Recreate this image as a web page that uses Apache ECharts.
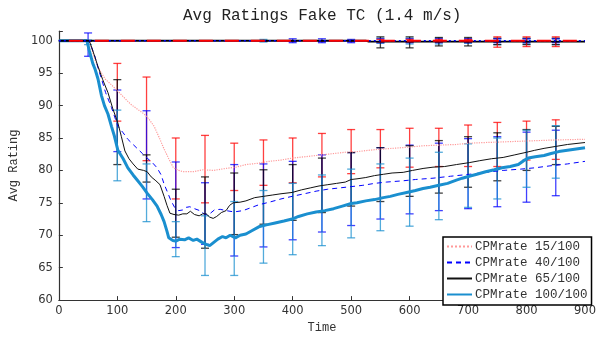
<!DOCTYPE html>
<html>
<head>
<meta charset="utf-8">
<script src="https://cdn.jsdelivr.net/npm/echarts@6/dist/echarts.min.js"></script>
<style>
  html, body { margin: 0; padding: 0; background: #fff; }
  #main { width: 609px; height: 339px; }
</style>
</head>
<body>
<div id="main"></div>
<script>
// ---- data ----
var legendNames = ['CPMrate 15/100', 'CPMrate 40/100', 'CPMrate 65/100', 'CPMrate 100/100'];

var cpm15Line = [[0,100],[52,100],[56,98.8],[62,97],[70,95.5],[79,94.1],[90,93.2],[101,92.2],[112,91.2],[123,90.2],
  [135,89.4],[146,88.7],[155,87.8],[163,86.8],[172,85.0],[180,83.3],[188,81.8],[196,80.4],[205,80.0],[213,79.8],
  [230,79.8],[247,80.1],[265,80.0],[285,80.3],[303,80.5],[320,80.9],[340,81.1],[360,81.4],[380,81.6],[399,81.9],
  [430,82.2],[460,82.5],[490,82.8],[510,82.9],[540,83.2],[570,83.4],[600,83.6],[623,83.8],[650,83.9],[680,84.0],
  [702,84.2],[730,84.3],[760,84.4],[790,84.5],[820,84.6],[850,84.7],[900,84.8]];

var cpm40Line = [[0,100],[50,100],[56,99],[62,97.5],[67,95.8],[73,94.1],[80,92.0],[90,89.7],[101,86.8],[110,85.8],
  [118,84.8],[127,84.0],[135,83.3],[143,82.6],[151,81.9],[160,81.2],[168,80.4],[175,79.3],[180,77.9],[186,76.6],
  [191,75.5],[198,74.3],[205,73.8],[212,73.9],[218,74.3],[224,74.4],[232,74.1],[241,73.8],[250,73.2],[258,73.3],
  [266,73.9],[276,74.0],[286,73.8],[300,73.6],[315,73.8],[330,74.3],[342,74.7],[360,75.1],[380,75.6],[399,76.0],
  [420,76.4],[440,76.8],[460,77.1],[480,77.3],[500,77.5],[520,77.7],[540,78.0],[560,78.2],[589,78.4],[610,78.6],
  [640,78.8],[670,79.1],[702,79.4],[730,79.7],[760,80.0],[790,80.2],[814,80.4],[840,80.7],[870,81.0],[900,81.4]];

var cpm65Line = [[0,100],[52,100],[56,99],[62,97.4],[67,96.0],[75,94.0],[84,92.0],[92,89.6],[101,87.3],[107,85.2],
  [113,83.0],[120,81.8],[127,81.0],[135,80.2],[145,80.0],[151,79.8],[158,79.0],[166,78.4],[173,77.8],[180,76.0],
  [185,74.6],[190,73.4],[197,73.2],[205,73.1],[212,73.3],[219,73.3],[225,73.7],[232,73.2],[240,73.0],[246,73.3],
  [252,73.3],[258,72.8],[264,72.6],[270,72.9],[278,73.5],[286,73.8],[292,74.6],[298,75.0],[310,75.1],[320,75.3],
  [335,75.8],[350,76.0],[365,76.2],[380,76.4],[399,76.6],[415,77.0],[430,77.3],[445,77.6],[460,77.8],[475,78.0],
  [490,78.2],[500,78.6],[510,78.7],[525,78.9],[540,79.2],[555,79.4],[570,79.6],[589,79.7],[605,80.0],[623,80.3],
  [640,80.5],[660,80.6],[680,80.9],[702,81.2],[720,81.5],[740,81.8],[760,82.0],[780,82.4],[800,82.8],[814,83.1],
  [830,83.4],[850,83.7],[870,84.0],[900,84.3]];

var cpm100Line = [[0,100],[48,100],[52,98.5],[58,96.5],[62,95.6],[67,94.1],[73,91.5],[78,90.0],[84,88.7],[90,86.8],
  [95,85.3],[101,83.1],[110,81.8],[118,80.4],[127,79.3],[135,78.4],[143,77.5],[151,76.5],[160,75.5],[168,74.5],
  [175,73.2],[180,72.1],[185,70.6],[188,69.6],[195,69.2],[200,69.1],[207,69.4],[215,69.3],[222,69.6],[230,69.2],
  [236,69.4],[245,68.9],[252,68.6],[258,68.4],[265,68.9],[272,69.4],[280,69.8],[286,69.6],[293,70.0],[302,69.6],
  [310,70.0],[320,70.2],[330,70.7],[342,71.3],[355,71.6],[370,71.9],[385,72.2],[399,72.5],[410,72.9],[425,73.3],
  [440,73.6],[455,73.8],[470,74.1],[485,74.5],[500,74.9],[510,75.0],[525,75.3],[540,75.5],[555,75.8],[567,76.0],
  [580,76.3],[595,76.6],[610,76.9],[623,77.2],[635,77.4],[650,77.7],[665,78.0],[680,78.5],[690,78.8],[702,79.1],
  [715,79.4],[730,79.8],[745,80.1],[758,80.4],[772,80.6],[786,80.9],[795,81.5],[803,81.9],[815,82.1],[830,82.3],
  [842,82.6],[855,82.9],[870,83.1],[885,83.3],[900,83.5]];

// error bars of the four falling curves
var errX = [50,100,150,200,250,300,350,400,450,500,550,600,650,700,750,800,850];
var cpm15Lo  = [100,87.6,81.5,75.6,75.0,76.9,77.7,78.1,79.0,79.5,80.4,80.5,80.6,80.6,80.6,81.6,81.7];
var cpm15Hi  = [100,96.5,94.4,85.0,85.4,84.2,84.7,85.0,85.7,86.3,86.3,86.5,86.5,87.0,87.4,87.6,87.8];
var cpm40Lo  = [97.6,82.9,75.6,68.1,68.6,66.8,68.2,69.3,70.5,71.5,72.5,73.3,73.8,74.1,74.4,75.1,76.1];
var cpm40Hi  = [101.2,92.4,89.2,81.3,78.1,80.9,81.0,81.4,82.4,82.75,83.5,83.9,84.2,84.9,85.2,85.9,86.2];
var cpm65Lo  = [100,80.9,78.2,69.7,68.0,70.1,71.7,72.3,73.5,74.5,75.2,76.0,76.5,77.4,78.4,80.0,80.9];
var cpm65Hi  = [100,94.0,82.4,77.1,79.0,79.6,80.1,80.9,81.9,82.75,83.5,83.8,84.6,85.2,85.8,86.3,86.8];
var cpm100Lo = [99.4,78.4,72.1,66.7,63.8,63.8,65.7,67.0,68.4,69.6,70.7,71.4,72.4,74.3,75.6,77.4,78.8];
var cpm100Hi = [100.1,89.3,81.0,72.1,73.0,75.2,76.9,78.0,79.3,80.2,81.0,81.9,82.8,84.1,85.0,86.2,86.9];

// the curves that stay at 100
var flatBlackLine = [[0,100],[525,100],[530,99.85],[900,99.85]];
var flatBlueLine = [[0,100],[900,100]];
var flatRedLine = [[0,100],[900,100]];
var flatErrX = [350,400,450,500,550,600,650,700,750,800,850];
var flatBlackLo = [100,100,100,100,98.9,98.9,99.2,99.2,99.4,99.4,99.4];
var flatBlackHi = [100,100,100,100,100.6,100.6,100.5,100.5,100.4,100.4,100.4];
var flatBlueLo  = [100,99.7,99.7,99.7,99.7,99.7,99.7,99.7,99.7,99.7,99.7];
var flatBlueHi  = [100,100.3,100.3,100.2,100.3,100.3,100.3,100.3,100.3,100.3,100.3];
var flatCyanLo  = [99.8,100,100,100,99.6,99.5,99.5,99.6,99.4,99.5,99.4];
var flatCyanHi  = [100.2,100,100,100,100.4,100.4,100.4,100.3,100.3,100.3,100.3];
var flatRedLo   = [100,100,100,100,99.8,99.8,99.8,99.8,99.0,99.1,99.1];
var flatRedHi   = [100,100,100,100,100.2,100.2,100.2,100.2,100.6,100.6,100.6];

var C_RED = '#ff0000', C_PINK = '#ff9a9a', C_BLUE = '#0000ff', C_BLACK = '#000000', C_CYAN = '#1a8fcf';

function zip(xs, lo, hi) {
    var out = [];
    for (var i = 0; i < xs.length; i++) out.push([xs[i], lo[i], hi[i]]);
    return out;
}

function errorBars(name, xs, lo, hi, color, z) {
    return {
        name: name,
        type: 'custom',
        z: z || 3,
        silent: true,
        encode: { x: 0, y: [1, 2] },
        data: zip(xs, lo, hi),
        renderItem: function (params, api) {
            var x = api.value(0);
            var p1 = api.coord([x, api.value(1)]);
            var p2 = api.coord([x, api.value(2)]);
            var w = 4;
            var st = { stroke: color, lineWidth: 1.3, opacity: 0.75 };
            return {
                type: 'group',
                children: [
                    { type: 'line', shape: { x1: p1[0], y1: p1[1], x2: p2[0], y2: p2[1] }, style: st },
                    { type: 'line', shape: { x1: p1[0] - w, y1: p1[1], x2: p1[0] + w, y2: p1[1] }, style: st },
                    { type: 'line', shape: { x1: p2[0] - w, y1: p2[1], x2: p2[0] + w, y2: p2[1] }, style: st }
                ]
            };
        }
    };
}

var chart = echarts.init(document.getElementById('main'));
var monoFont = "'Courier New', 'Liberation Mono', monospace";
var option = {
    animation: false,
    backgroundColor: '#ffffff',
    title: {
        text: 'Avg Ratings Fake TC (1.4 m/s)',
        left: 178,
        top: 3,
        textStyle: { fontFamily: monoFont, fontSize: 16, fontWeight: 'normal', color: '#222' }
    },
    legend: {
        data: legendNames,
        orient: 'vertical',
        left: 443,
        top: 237,
        padding: [3, 4, 4, 3],
        itemGap: 3,
        itemWidth: 25,
        itemHeight: 14,
        backgroundColor: '#fff',
        borderColor: '#000',
        borderWidth: 1.5,
        itemStyle: { opacity: 0 },
        textStyle: { fontFamily: monoFont, fontSize: 12.5, color: '#333', padding: [0, 0, 0, -2] }
    },
    grid: { left: 50, right: 24, top: 31, bottom: 27 },
    xAxis: {
        type: 'value',
        min: 0,
        max: 900,
        interval: 100,
        name: 'Time',
        nameLocation: 'middle',
        nameGap: 18,
        nameTextStyle: { fontFamily: monoFont, fontSize: 12, color: '#333' },
        splitLine: { show: false },
        axisLine: { lineStyle: { color: '#333', width: 1.2 } },
        axisTick: { inside: true, length: 4, lineStyle: { color: '#333' } },
        axisLabel: { fontFamily: 'DejaVu Sans', fontSize: 11.5, color: '#333', margin: 5 }
    },
    yAxis: {
        type: 'value',
        min: 60,
        max: 101.5,
        interval: 5,
        name: 'Avg Rating',
        nameLocation: 'middle',
        nameGap: 27,
        nameTextStyle: { fontFamily: monoFont, fontSize: 12, color: '#333' },
        splitLine: { show: false },
        axisLine: { lineStyle: { color: '#333', width: 1.2 } },
        axisTick: { inside: true, length: 4, lineStyle: { color: '#333' } },
        axisLabel: {
            fontFamily: 'DejaVu Sans', fontSize: 11.5, color: '#333', margin: 6,
            formatter: function (v) { return v % 5 === 0 ? String(v) : ''; }
        }
    },
    series: [
        errorBars('e15', errX, cpm15Lo, cpm15Hi, C_RED),
        errorBars('e40', errX, cpm40Lo, cpm40Hi, C_BLUE),
        errorBars('e65', errX, cpm65Lo, cpm65Hi, C_BLACK),
        errorBars('e100', errX, cpm100Lo, cpm100Hi, C_CYAN),
        {
            name: legendNames[0], type: 'line', data: cpm15Line, symbol: 'none', z: 4,
            lineStyle: { color: C_PINK, width: 1.2, type: 'dotted' }, itemStyle: { color: C_PINK }
        },
        {
            name: legendNames[1], type: 'line', data: cpm40Line, symbol: 'none', z: 4,
            lineStyle: { color: C_BLUE, width: 1, type: [5, 4] }, itemStyle: { color: C_BLUE }
        },
        {
            name: legendNames[2], type: 'line', data: cpm65Line, symbol: 'none', z: 4,
            lineStyle: { color: '#111', width: 1 }, itemStyle: { color: '#111' }
        },
        {
            name: legendNames[3], type: 'line', data: cpm100Line, symbol: 'none', z: 4,
            lineStyle: { color: C_CYAN, width: 3 }, itemStyle: { color: C_CYAN }
        },
        errorBars('fe100', flatErrX, flatCyanLo, flatCyanHi, C_CYAN, 5),
        errorBars('fe65', flatErrX, flatBlackLo, flatBlackHi, C_BLACK, 5),
        errorBars('fe40', flatErrX, flatBlueLo, flatBlueHi, C_BLUE, 5),
        errorBars('fe15', flatErrX, flatRedLo, flatRedHi, C_RED, 5),
        {
            name: 'flat65', type: 'line', data: flatBlackLine, symbol: 'none', z: 6, silent: true,
            lineStyle: { color: C_BLACK, width: 1.8 }
        },
        {
            name: 'flat40', type: 'line', data: flatBlueLine, symbol: 'none', z: 6, silent: true,
            lineStyle: { color: C_BLUE, width: 1.5, type: [2, 3] }
        },
        {
            name: 'flat15', type: 'line', data: flatRedLine, symbol: 'none', z: 6, silent: true,
            lineStyle: { color: C_RED, width: 1.8, type: [14, 12], dashOffset: -36 }
        }
    ]
};
chart.setOption(option);
</script>
</body>
</html>
